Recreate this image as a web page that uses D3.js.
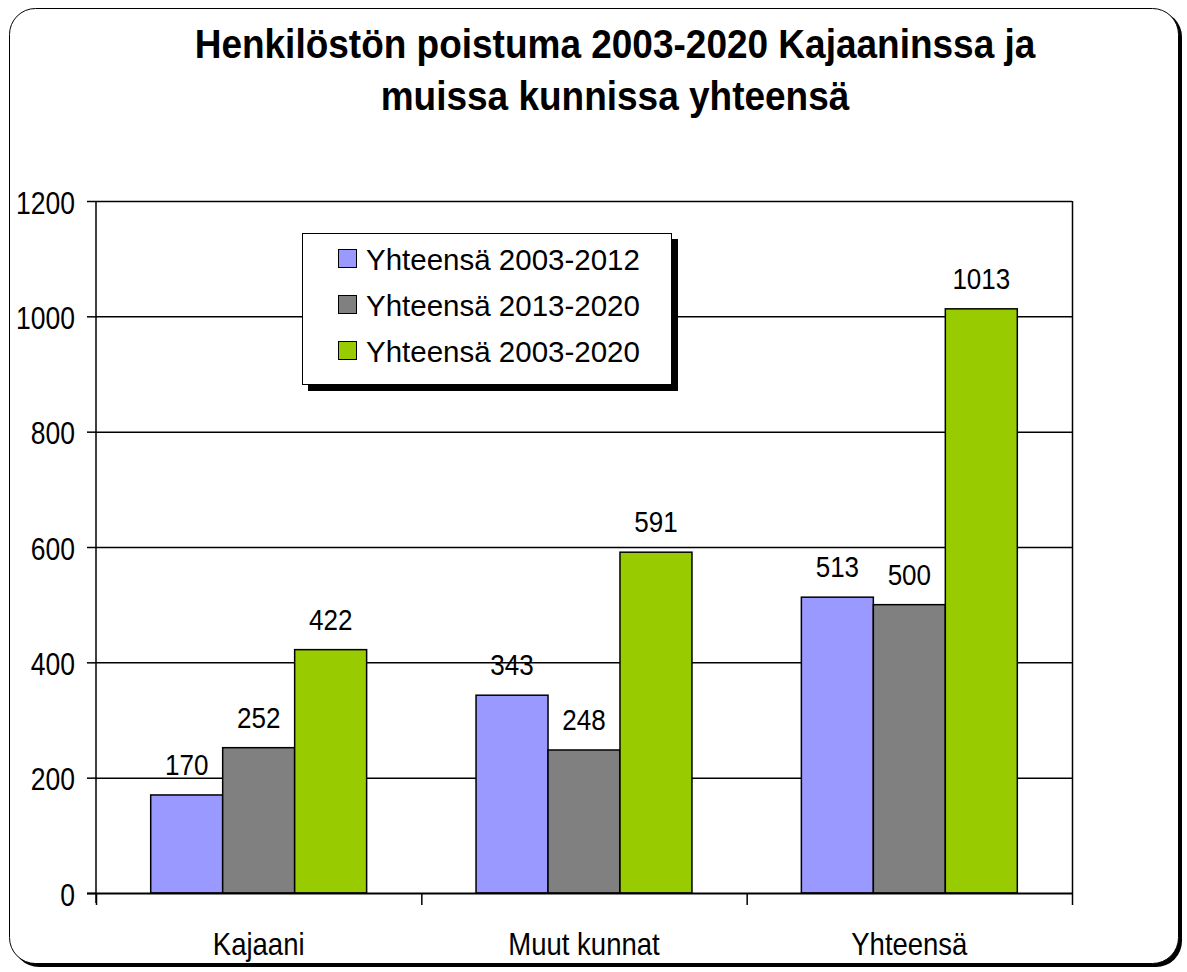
<!DOCTYPE html>
<html>
<head>
<meta charset="utf-8">
<script src="https://cdn.jsdelivr.net/npm/d3@7"></script>
<style>
  body { margin: 0; background: #fff; }
  text { font-family: "Liberation Sans", Arial, sans-serif; fill: #000; }
</style>
</head>
<body>
<div id="chart"></div>
<script>
const titleLines = ['Henkilöstön poistuma 2003-2020 Kajaaninssa ja', 'muissa kunnissa yhteensä'];
const categories = ['Kajaani', 'Muut kunnat', 'Yhteensä'];
const seriesNames = ['Yhteensä 2003-2012', 'Yhteensä 2013-2020', 'Yhteensä 2003-2020'];
const seriesColors = ['#9999ff', '#808080', '#99cc00'];
const values2003_2012 = [170, 343, 513];
const values2013_2020 = [252, 248, 500];
const values2003_2020 = [422, 591, 1013];
const yTicks = [0, 200, 400, 600, 800, 1000, 1200];

const seriesValues = [values2003_2012, values2013_2020, values2003_2020];
const width = 1187, height = 972;
const plot = { left: 96, right: 1072, top: 201, bottom: 893 };
const stretch = 1.16; // text in the picture is a bit taller than wide

const svg = d3.select('#chart').append('svg')
  .attr('width', width)
  .attr('height', height);

// outer frame with shadow
svg.append('rect')
  .attr('x', 13).attr('y', 11)
  .attr('width', 1169).attr('height', 956)
  .attr('rx', 26).attr('fill', '#000');
svg.append('rect')
  .attr('x', 9.5).attr('y', 8.5)
  .attr('width', 1169).attr('height', 955)
  .attr('rx', 26).attr('fill', '#fff').attr('stroke', '#000').attr('stroke-width', 1);

svg.append('g').selectAll('text')
  .data(titleLines)
  .join('text')
  .attr('transform', (d, i) => `translate(615,${58 + i * 52}) scale(1,1.1)`)
  .attr('text-anchor', 'middle')
  .style('font-size', '37px')
  .style('font-weight', 'bold')
  .text(d => d);

let x0 = d3.scaleBand().domain(categories).range([plot.left, plot.right]).paddingInner(0).paddingOuter(0);
let x1 = d3.scaleBand().domain(d3.range(3)).range([0, x0.bandwidth()]).paddingInner(0).paddingOuter(0.76);
let y = d3.scaleLinear().domain([0, 1200]).range([plot.bottom, plot.top]);

// gridlines
svg.append('g').selectAll('line')
  .data(yTicks.filter(d => d > 0))
  .join('line')
  .attr('x1', plot.left).attr('x2', plot.right)
  .attr('y1', d => y(d) + 0.5).attr('y2', d => y(d) + 0.5)
  .attr('stroke', '#000').attr('stroke-width', 1.5);

// right border
svg.append('line')
  .attr('x1', plot.right + 0.5).attr('x2', plot.right + 0.5)
  .attr('y1', plot.top).attr('y2', plot.bottom)
  .attr('stroke', '#000').attr('stroke-width', 1.5);

// bars
let groups = svg.append('g').selectAll('g')
  .data(categories)
  .join('g')
  .attr('transform', d => `translate(${x0(d)},0)`);

groups.selectAll('rect')
  .data((d, ci) => seriesValues.map((s, si) => ({ si, v: s[ci] })))
  .join('rect')
  .attr('x', d => x1(d.si))
  .attr('y', d => y(d.v))
  .attr('width', x1.bandwidth())
  .attr('height', d => y(0) - y(d.v))
  .attr('fill', d => seriesColors[d.si])
  .attr('stroke', '#000').attr('stroke-width', 1.5);

groups.selectAll('text')
  .data((d, ci) => seriesValues.map((s, si) => ({ si, v: s[ci] })))
  .join('text')
  .attr('transform', d => `translate(${x1(d.si) + x1.bandwidth() / 2},${y(d.v) - 20}) scale(1,${stretch})`)
  .attr('text-anchor', 'middle')
  .style('font-size', '26px')
  .text(d => d.v);

// y axis
let yAxis = svg.append('g')
  .attr('transform', `translate(${plot.left},0)`)
  .call(d3.axisLeft(y).tickValues(yTicks).tickFormat(d3.format('d')).tickSize(9).tickPadding(12));
yAxis.select('.domain').attr('stroke-width', 1.5).attr('d', `M0,${plot.top}V${plot.bottom + 10}`);
yAxis.selectAll('.tick line').attr('stroke-width', 1.5);
yAxis.selectAll('text')
  .attr('dy', '0.4em')
  .attr('transform', `scale(1,${stretch})`)
  .style('font-size', '26.5px')
  .style('font-family', '"Liberation Sans", Arial, sans-serif')
  .attr('fill', '#000');

// x axis
let xAxis = svg.append('g')
  .attr('transform', `translate(0,${plot.bottom})`);
xAxis.append('line')
  .attr('x1', plot.left - 9).attr('x2', plot.right)
  .attr('y1', 0.5).attr('y2', 0.5)
  .attr('stroke', '#000').attr('stroke-width', 2);
xAxis.selectAll('line.tk')
  .data(categories.map(c => x0(c)).concat([plot.right]))
  .join('line')
  .attr('class', 'tk')
  .attr('x1', d => d + 0.5).attr('x2', d => d + 0.5)
  .attr('y1', 0).attr('y2', 12)
  .attr('stroke', '#000').attr('stroke-width', 1.5);
xAxis.selectAll('text')
  .data(categories)
  .join('text')
  .attr('transform', d => `translate(${x0(d) + x0.bandwidth() / 2},62) scale(1,${stretch})`)
  .attr('text-anchor', 'middle')
  .style('font-size', '27.5px')
  .text(d => d);

// legend
let legend = svg.append('g');
legend.append('rect')
  .attr('x', 308).attr('y', 239).attr('width', 370).attr('height', 152)
  .attr('fill', '#000');
legend.append('rect')
  .attr('x', 302.5).attr('y', 233.5).attr('width', 369).attr('height', 151)
  .attr('fill', '#fff').attr('stroke', '#000').attr('stroke-width', 1);
let items = legend.selectAll('g.item')
  .data(seriesNames)
  .join('g')
  .attr('class', 'item')
  .attr('transform', (d, i) => `translate(0,${259 + i * 46})`);
items.append('rect')
  .attr('x', 338.5).attr('y', -9.5).attr('width', 18).attr('height', 18)
  .attr('fill', (d, i) => seriesColors[i])
  .attr('stroke', '#000').attr('stroke-width', 1);
items.append('text')
  .attr('x', 366).attr('y', 11)
  .style('font-size', '29.5px')
  .text(d => d);
</script>
</body>
</html>
